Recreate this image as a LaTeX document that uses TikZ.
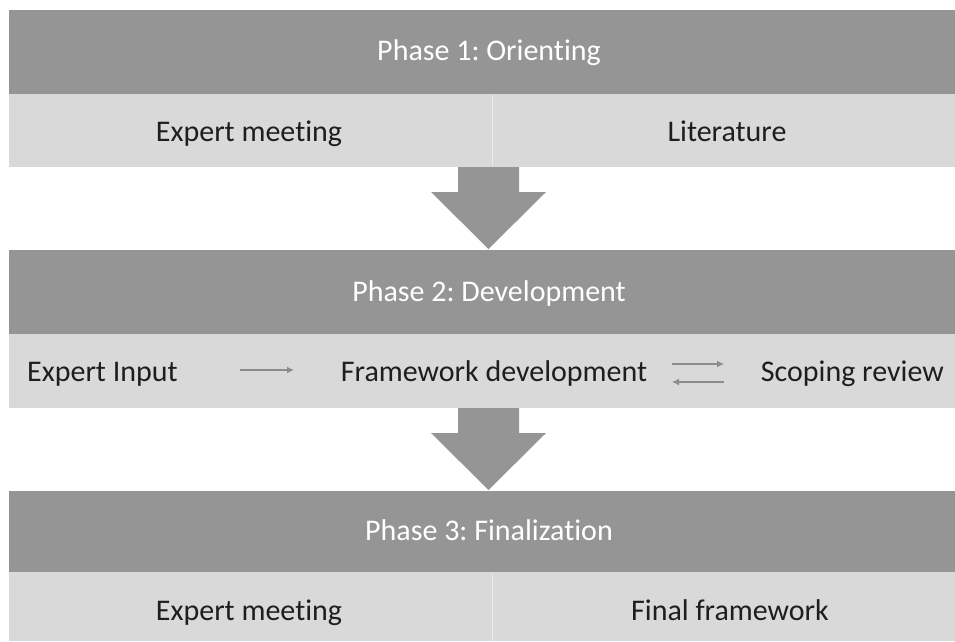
\documentclass[tikz,border=0pt]{standalone}
\usepackage{fontspec}
\setmainfont{Carlito}[RawFeature=-liga]
\frenchspacing
\usetikzlibrary{calc,arrows.meta}
\definecolor{bandDark}{HTML}{959595}
\definecolor{bandLight}{HTML}{D9D9D9}
\definecolor{flowGray}{HTML}{8C8C8C}
\definecolor{inkText}{HTML}{1E1E1E}
\tikzset{
  darkband/.style={fill=bandDark, draw=none},
  lightband/.style={fill=bandLight, draw=none},
  phasetitle/.style={text=white, font=\fontsize{30}{36}\selectfont, inner sep=0pt,
    text height=21pt, text depth=7pt},
  itemtext/.style={text=inkText, font=\fontsize{30}{36}\selectfont, inner sep=0pt,
    text height=21pt, text depth=7pt},
  bigarrow/.style={fill=bandDark, draw=none},
  smallflow/.style={draw=flowGray, line width=2.2pt, -{Latex[length=7pt,width=7pt]}},
  cellsplit/.style={draw=white!45!bandLight, line width=1pt}
}
\begin{document}
\begin{tikzpicture}[x=1pt,y=-1pt]
\useasboundingbox (0,0) rectangle (955,641);
\fill[white] (0,0) rectangle (955,641);

% Phase 1
\fill[darkband] (9,10) rectangle (955,94);
\fill[lightband] (9,94) rectangle (955,167);
\draw[cellsplit] (492,95) -- (492,166);
\node[phasetitle] (p1title) at (489,53) {Phase 1: Orienting};
\node[itemtext] (p1left) at (249,134) {Expert meeting};
\node[itemtext] (p1right) at (727,134) {Literature};

% Phase 2
\fill[darkband] (9,250) rectangle (955,334);
\fill[lightband] (9,334) rectangle (955,408);
\node[phasetitle] (p2title) at (489,294) {Phase 2: Development};
\node[itemtext, anchor=west] (p2input) at (27,374) {Expert Input};
\node[itemtext] (p2frame) at (494,374) {Framework development};
\node[itemtext, anchor=east] (p2review) at (944,374) {Scoping review};
\coordinate (fa) at (240,370);
\coordinate (fb) at (294,370);
\draw[smallflow] (fa) -- (fb);
\coordinate (ra) at (672,364);
\coordinate (rb) at (724,364);
\coordinate (rc) at (724,382);
\coordinate (rd) at (672,382);
\draw[smallflow] (ra) -- (rb);
\draw[smallflow] (rc) -- (rd);

% Phase 3
\fill[darkband] (9,491) rectangle (955,572);
\fill[lightband] (9,572) rectangle (955,641);
\draw[cellsplit] (492,573) -- (492,641);
\node[phasetitle] (p3title) at (489,533) {Phase 3: Finalization};
\node[itemtext] (p3left) at (249,613) {Expert meeting};
\node[itemtext] (p3right) at (730,613) {Final framework};

% Block arrows between the phases
\fill[bigarrow] (458,167) -- (519,167) -- (519,192) -- (546,192) -- (488.5,249)
  -- (431,192) -- (458,192) -- cycle;
\fill[bigarrow] (458,408) -- (519,408) -- (519,433) -- (546,433) -- (488.5,490)
  -- (431,433) -- (458,433) -- cycle;
\end{tikzpicture}
\end{document}
